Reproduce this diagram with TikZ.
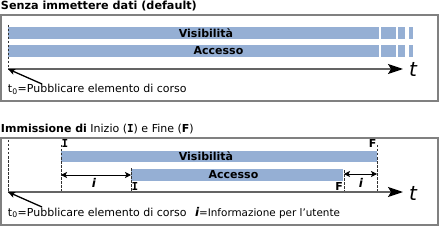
\documentclass[tikz,border=0pt]{standalone}
\usepackage{fontspec}
\setmainfont{DejaVu Sans}
\newfontfamily\slabI{DejaVu Sans Mono}
\usetikzlibrary{arrows.meta}
\definecolor{framegray}{RGB}{128,128,128}
\definecolor{axisgray}{RGB}{100,100,100}
\definecolor{barblue}{RGB}{149,175,212}
\definecolor{dashgray}{RGB}{50,50,50}
\newcommand{\bigI}{{\slabI\bfseries I}}
\begin{document}
\begin{tikzpicture}[x=1pt,y=-1pt,
  font=\fontsize{11}{13}\selectfont,
  frame/.style={draw=framegray,line width=1.5pt},
  bar/.style={fill=barblue,draw=none},
  txt/.style={inner sep=0pt,outer sep=0pt},
  lbl/.style={inner sep=0pt,outer sep=0pt,font=\fontsize{11}{13}\selectfont\bfseries},
  timeaxis/.style={draw=axisgray,line width=1.4pt,-{Stealth[length=15pt,width=10pt,inset=3pt,color=black]}},
  pointer/.style={draw=black,line width=1.3pt,-{Stealth[length=7pt,width=6pt,inset=1.5pt]}},
  guide/.style={draw=dashgray,line width=0.7pt,dash pattern=on 2.5pt off 1.5pt},
  span/.style={draw=black,line width=0.8pt,{Stealth[length=6pt,width=6pt,inset=1.5pt]}-{Stealth[length=6pt,width=6pt,inset=1.5pt]}},
  tlabel/.style={inner sep=0pt,font=\fontsize{20}{20}\selectfont\itshape},
  ilabel/.style={inner sep=0pt,font=\fontsize{12}{13}\selectfont\bfseries\itshape}
]
\useasboundingbox (0,0) rectangle (439,227);

% ---------- top panel ----------
\node[txt,anchor=base west,font=\fontsize{11.2}{13}\selectfont\bfseries] (title1) at (1,10) {Senza immettere dati (default)};
\draw[frame] (1,15) rectangle (438,101);

\fill[bar] (8,27) rectangle (379,39);
\fill[bar] (381,27) rectangle (396,39);
\fill[bar] (398,27) rectangle (405,39);
\fill[bar] (409,27) rectangle (413,39);
\fill[bar] (8,45) rectangle (379,57);
\fill[bar] (381,45) rectangle (396,57);
\fill[bar] (398,45) rectangle (405,57);
\fill[bar] (409,45) rectangle (413,57);
\node[lbl] (vis1) at (206,33) {Visibilità};
\node[lbl] (acc1) at (218.5,51) {Accesso};

\coordinate (top1) at (8,25);
\coordinate (o1) at (8,69);
\coordinate (end1) at (403,69);
\draw[guide] (top1) -- (o1);
\draw[timeaxis] (o1) -- (end1);
\node[tlabel,anchor=base west] (t1) at (409,77) {t};

\node[txt,anchor=base west] (pub1) at (8,93) {t\textsubscript{0}=Pubblicare elemento di corso};
\coordinate (p1) at (42,84);
\draw[pointer] (p1) -- (o1);

% ---------- bottom panel ----------
\node[txt,anchor=base west] (title2) at (1,133) {\textbf{Immissione di} Inizio (\bigI) e Fine (\textbf{F})};
\draw[frame] (1,138) rectangle (438,225);

\fill[bar] (61,151) rectangle (377,162);
\fill[bar] (131,169) rectangle (343,181);
\node[lbl] (vis2) at (206,156.5) {Visibilità};
\node[lbl] (acc2) at (233.5,175) {Accesso};

\coordinate (o2) at (8,192);
\coordinate (end2) at (403,192);
\coordinate (top2) at (8,140);
\coordinate (vs) at (61,145);
\coordinate (vsb) at (61,192);
\coordinate (as) at (131,168);
\coordinate (asb) at (131,192);
\coordinate (ae) at (344,170);
\coordinate (aeb) at (344,192);
\coordinate (ve) at (377,145);
\coordinate (veb) at (377,192);
\draw[guide] (top2) -- (o2);
\draw[guide] (vs) -- (vsb);
\draw[guide] (as) -- (asb);
\draw[guide] (ae) -- (aeb);
\draw[guide] (ve) -- (veb);
\draw[timeaxis] (o2) -- (end2);
\node[tlabel,anchor=base west] (t2) at (409,200) {t};

\node[lbl,anchor=base west] (i1) at (61.5,148) {\bigI};
\node[lbl,anchor=base west] (i2) at (131.5,190) {\bigI};
\node[lbl,anchor=base east] (f1) at (376.5,148) {F};
\node[lbl,anchor=base east] (f2) at (343,190) {F};

\coordinate (sa1) at (61,175);
\coordinate (sb1) at (131,175);
\coordinate (sa2) at (344,174);
\coordinate (sb2) at (377,174);
\draw[span] (sa1) -- (sb1);
\draw[span] (sa2) -- (sb2);
\node[ilabel,anchor=base] (il1) at (94,187) {i};
\node[ilabel,anchor=base] (il2) at (361,187) {i};

\node[txt,anchor=base west] (pub2) at (8,216) {t\textsubscript{0}=Pubblicare elemento di corso};
\coordinate (p2) at (42,207);
\draw[pointer] (p2) -- (o2);
\node[txt,anchor=base west,font=\fontsize{10.4}{13}\selectfont] (info) at (195,216) {{\fontsize{12}{13}\selectfont\bfseries\itshape i}=Informazione per l’utente};
\end{tikzpicture}
\end{document}
